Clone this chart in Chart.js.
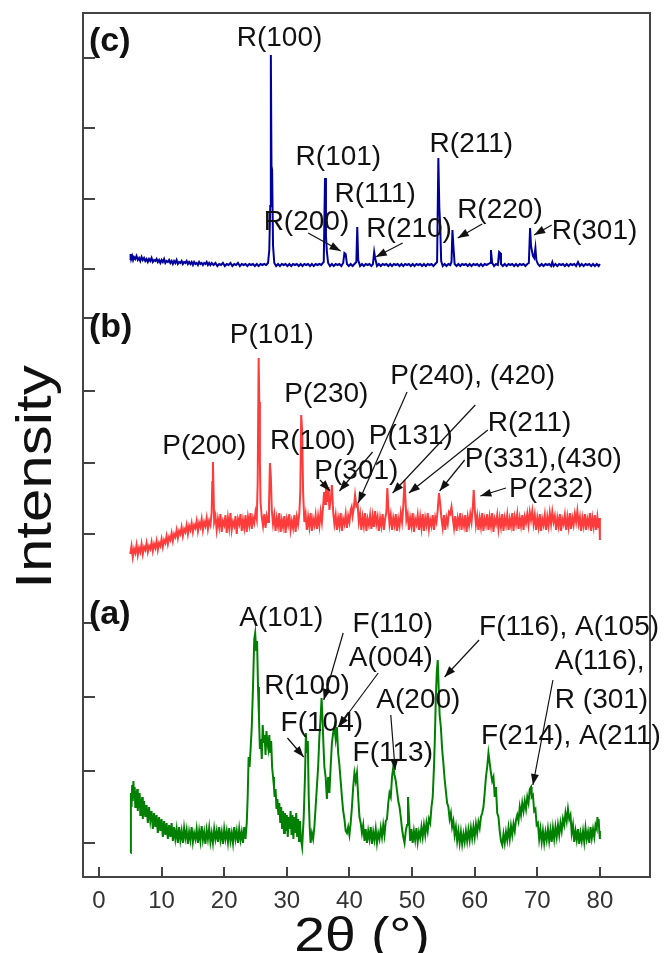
<!DOCTYPE html>
<html><head><meta charset="utf-8">
<style>html,body{margin:0;padding:0;background:#fff;}canvas{display:block;}</style>
</head><body>
<canvas id="c" width="671" height="953"></canvas>
<script src="https://cdn.jsdelivr.net/npm/chart.js@4.4.0/dist/chart.umd.min.js"></script>
<script>
// ---------- data (2θ in degrees, intensity in arbitrary units) ----------
const xTicks = [0,10,20,30,40,50,60,70,80];
const yTicks = [34,106,180,254,343,414,486,559,608,678,749,819];
const offsetA = 40, offsetB = 325, offsetC = 611;

const patternC = [[5,6],[5.05,12],[5.15,7],[5.3,10],[5.45,6],[5.6,9],[5.8,7],[6,10],[6.2,6],[6.4,8],[6.6,5],[6.8,9],[7,6],[7.2,8],[7.4,5],[7.6,7],[7.8,4],[8,7],[8.2,5],[8.4,8],[8.6,4],[8.8,6],[9,5],[9.2,7],[9.4,4],[9.6,6],[9.8,3],[10,6],[10.2,4],[10.4,7],[10.6,3],[10.8,5],[11,4],[11.2,6],[11.4,3],[11.6,5],[11.8,2],[12,5],[12.2,3],[12.4,6],[12.6,2],[12.8,4],[13,3],[13.2,5],[13.4,2],[13.6,4],[13.8,3],[14,5],[14.2,2],[14.4,4],[14.6,2],[14.8,4],[15,1],[15.2,4],[15.4,2],[15.6,3],[15.8,1],[16,4],[16.2,2],[16.4,3],[16.6,1],[16.8,3],[17,2],[17.2,4],[17.4,1],[17.6,3],[17.8,1],[18,3],[18.3,1],[18.6,3],[18.9,0],[19.2,2],[19.5,1],[19.8,3],[20.1,0],[20.4,2],[20.7,1],[21,3],[21.3,0],[21.6,2],[21.9,1],[22.2,3],[22.5,0],[22.8,2],[23.1,1],[23.4,2],[23.7,0],[24,2],[24.3,1],[24.6,2],[24.9,0],[25.2,2],[25.5,0],[25.8,2],[26.1,1],[26.4,2],[26.7,1],[27,3],[27.2,16],[27.35,60],[27.45,211],[27.55,100],[27.65,96],[27.8,20],[28,3],[28.3,0],[28.6,2],[28.9,0],[29.2,2],[29.5,1],[29.8,2],[30.1,0],[30.4,2],[30.7,0],[31,2],[31.3,1],[31.6,2],[31.9,0],[32.2,2],[32.5,0],[32.8,2],[33.1,1],[33.4,2],[33.7,0],[34,2],[34.3,0],[34.6,2],[34.9,1],[35.2,2],[35.5,1],[35.9,4],[36.1,88],[36.25,30],[36.4,14],[36.6,3],[36.9,0],[37.2,2],[37.5,0],[37.8,2],[38.1,1],[38.4,2],[38.7,0],[39,3],[39.2,13],[39.4,12],[39.6,2],[39.9,0],[40.2,2],[40.5,0],[40.8,2],[41.1,4],[41.25,39],[41.4,6],[41.7,0],[42,2],[42.3,0],[42.6,2],[42.9,1],[43.2,2],[43.5,0],[43.75,2],[43.95,14],[44.1,8],[44.4,0],[44.7,2],[45,0],[45.3,2],[45.6,1],[45.9,2],[46.2,0],[46.5,2],[46.8,0],[47.1,2],[47.4,1],[47.7,2],[48,0],[48.3,2],[48.6,0],[48.9,2],[49.2,1],[49.5,2],[49.8,0],[50.1,2],[50.4,0],[50.7,2],[51,1],[51.3,2],[51.6,0],[51.9,2],[52.2,0],[52.5,2],[52.8,1],[53.1,2],[53.4,0],[53.7,2],[54,4],[54.2,108],[54.35,59],[54.5,40],[54.65,5],[54.9,0],[55.2,2],[55.5,0],[55.8,2],[56.1,1],[56.3,4],[56.45,36],[56.6,20],[56.8,2],[57.1,0],[57.4,2],[57.7,0],[58,2],[58.3,1],[58.6,2],[58.9,0],[59.2,2],[59.5,0],[59.8,2],[60.1,1],[60.4,2],[60.7,0],[61,2],[61.3,0],[61.6,2],[61.9,1],[62.2,2],[62.45,3],[62.6,16],[62.8,3],[63.1,0],[63.4,2],[63.7,1],[63.9,14],[64.05,13],[64.2,2],[64.5,0],[64.8,2],[65.1,0],[65.4,2],[65.7,1],[66,2],[66.3,0],[66.6,2],[66.9,0],[67.2,2],[67.5,1],[67.8,2],[68.1,0],[68.4,2],[68.65,3],[68.85,38],[69,20],[69.3,10],[69.5,8],[69.7,18],[69.85,6],[70.1,2],[70.4,0],[70.7,2],[71,0],[71.3,2],[71.6,1],[71.9,2],[72.2,0],[72.4,4],[72.6,0],[72.9,2],[73.2,0],[73.5,2],[73.8,1],[74.1,2],[74.4,0],[74.7,2],[75,0],[75.3,2],[75.6,1],[75.9,2],[76.2,0],[76.5,4],[76.8,0],[77.1,2],[77.4,0],[77.7,2],[78,1],[78.3,2],[78.6,0],[78.9,2],[79.2,0],[79.5,2],[79.8,0],[80,2]];

const patternB = [[5,-2],[5.2,6],[5.4,-5],[5.6,3],[5.8,-1],[6,7],[6.2,-3],[6.4,4],[6.6,0],[6.8,8],[7,-2],[7.2,5],[7.4,2],[7.6,9],[7.8,0],[8,6],[8.2,3],[8.4,10],[8.6,1],[8.8,8],[9,4],[9.2,11],[9.4,2],[9.6,9],[9.8,6],[10,13],[10.2,5],[10.4,12],[10.6,9],[10.8,16],[11,8],[11.2,15],[11.4,12],[11.6,19],[11.8,11],[12,18],[12.2,15],[12.4,22],[12.6,14],[12.8,21],[13,18],[13.2,25],[13.4,16],[13.6,23],[13.8,20],[14,27],[14.2,18],[14.4,26],[14.6,22],[14.8,29],[15,20],[15.2,27],[15.4,24],[15.6,31],[15.8,21],[16,29],[16.2,25],[16.4,33],[16.6,22],[16.8,30],[17,26],[17.2,34],[17.4,23],[17.6,31],[17.8,27],[18,40],[18.1,70],[18.2,90],[18.3,60],[18.4,30],[18.6,36],[18.8,22],[19,33],[19.2,25],[19.4,38],[19.6,20],[19.8,31],[20,27],[20.2,37],[20.4,19],[20.6,34],[20.8,24],[21,39],[21.2,22],[21.4,30],[21.6,26],[21.8,36],[22,18],[22.2,33],[22.4,28],[22.6,38],[22.8,21],[23,32],[23.2,24],[23.4,37],[23.6,20],[23.8,35],[24,27],[24.2,39],[24.4,23],[24.6,34],[24.8,29],[25,40],[25.2,33],[25.35,70],[25.5,194],[25.6,150],[25.7,90],[25.8,50],[26,35],[26.2,26],[26.4,38],[26.6,24],[26.8,36],[27,30],[27.15,45],[27.3,89],[27.45,75],[27.6,42],[27.8,28],[28,37],[28.2,21],[28.4,34],[28.6,26],[28.8,39],[29,20],[29.2,32],[29.4,25],[29.6,36],[29.8,19],[30,33],[30.2,27],[30.4,38],[30.6,22],[30.8,31],[31,24],[31.2,37],[31.4,20],[31.6,35],[31.8,28],[32,39],[32.15,60],[32.3,137],[32.45,120],[32.6,60],[32.8,30],[33,38],[33.2,22],[33.4,35],[33.6,25],[33.8,39],[34,21],[34.2,33],[34.4,27],[34.6,37],[34.8,23],[35,36],[35.2,26],[35.4,40],[35.6,30],[35.8,46],[35.95,60],[36.1,48],[36.25,69],[36.45,50],[36.65,65],[36.8,42],[37.05,55],[37.2,67],[37.4,40],[37.6,28],[37.8,37],[38,22],[38.2,34],[38.4,26],[38.6,39],[38.8,21],[39,33],[39.2,28],[39.4,38],[39.6,24],[39.8,36],[40,30],[40.2,42],[40.35,45],[40.5,36],[40.7,44],[40.9,57],[41.1,46],[41.3,48],[41.5,30],[41.7,38],[41.9,22],[42.1,35],[42.3,26],[42.5,39],[42.7,21],[42.9,33],[43.1,27],[43.3,37],[43.5,23],[43.7,36],[43.9,25],[44.1,41],[44.3,28],[44.5,35],[44.7,21],[44.9,34],[45.1,26],[45.3,38],[45.5,22],[45.7,33],[45.9,40],[46.05,64],[46.2,45],[46.4,28],[46.6,37],[46.8,22],[47,34],[47.2,27],[47.4,38],[47.6,21],[47.8,33],[48,26],[48.2,39],[48.4,30],[48.6,46],[48.8,72],[48.95,52],[49.1,32],[49.3,38],[49.5,22],[49.7,34],[49.9,26],[50.1,39],[50.3,20],[50.5,33],[50.7,28],[50.9,37],[51.1,22],[51.3,35],[51.5,24],[51.7,38],[51.9,21],[52.1,34],[52.3,27],[52.5,39],[52.7,23],[52.9,32],[53.1,26],[53.3,37],[53.5,22],[53.7,35],[53.9,30],[54.1,42],[54.3,59],[54.5,48],[54.7,33],[54.9,24],[55.1,37],[55.3,22],[55.5,34],[55.7,28],[55.9,40],[56.1,38],[56.3,45],[56.5,34],[56.7,24],[56.9,36],[57.1,21],[57.3,34],[57.5,27],[57.7,39],[57.9,22],[58.1,33],[58.3,26],[58.5,37],[58.7,20],[58.9,35],[59.1,27],[59.3,38],[59.5,30],[59.7,45],[59.85,62],[60,44],[60.2,27],[60.4,36],[60.6,22],[60.8,34],[61,25],[61.2,39],[61.4,21],[61.6,33],[61.8,27],[62,38],[62.2,22],[62.4,35],[62.6,26],[62.8,39],[63,20],[63.2,33],[63.4,28],[63.6,37],[63.8,23],[64,34],[64.2,25],[64.4,38],[64.6,21],[64.8,34],[65,27],[65.2,37],[65.4,22],[65.6,33],[65.8,26],[66,39],[66.2,21],[66.4,35],[66.6,28],[66.8,38],[67,23],[67.2,34],[67.4,26],[67.6,37],[67.8,22],[68,35],[68.2,29],[68.4,38],[68.6,27],[68.8,40],[69,32],[69.2,41],[69.4,28],[69.6,37],[69.8,22],[70,34],[70.2,25],[70.4,38],[70.6,21],[70.8,33],[71,27],[71.2,37],[71.4,22],[71.6,35],[71.8,26],[72,39],[72.2,28],[72.4,40],[72.6,30],[72.8,36],[73,22],[73.2,34],[73.4,26],[73.6,38],[73.8,21],[74,33],[74.2,28],[74.4,37],[74.6,22],[74.8,35],[75,25],[75.2,39],[75.4,23],[75.6,34],[75.8,27],[76,38],[76.2,30],[76.4,41],[76.6,28],[76.8,35],[77,21],[77.2,34],[77.4,26],[77.6,38],[77.8,22],[78,33],[78.2,27],[78.4,39],[78.6,21],[78.8,34],[79,25],[79.2,37],[79.4,22],[79.6,35],[79.8,24],[79.9,34],[80,12]];

const patternA = [[5.05,-16],[5.1,44],[5.2,30],[5.3,52],[5.4,36],[5.5,56],[5.6,40],[5.7,50],[5.8,30],[5.9,46],[6,34],[6.1,48],[6.2,26],[6.3,42],[6.4,30],[6.5,44],[6.6,22],[6.7,38],[6.8,26],[6.9,40],[7,18],[7.2,36],[7.4,20],[7.6,32],[7.8,14],[8,30],[8.2,16],[8.4,26],[8.6,8],[8.8,24],[9,10],[9.2,22],[9.4,4],[9.6,20],[9.8,6],[10,18],[10.2,0],[10.4,16],[10.6,2],[10.8,14],[11,-2],[11.2,12],[11.4,0],[11.6,14],[11.8,-4],[12,10],[12.2,-2],[12.4,8],[12.6,-6],[12.8,10],[13,-3],[13.2,6],[13.4,-6],[13.6,9],[13.8,-1],[14,7],[14.2,-7],[14.4,5],[14.6,-3],[14.8,10],[15,-5],[15.2,4],[15.4,-2],[15.6,8],[15.8,-6],[16,6],[16.2,-4],[16.4,11],[16.6,-3],[16.8,5],[17,-7],[17.2,7],[17.4,-2],[17.6,9],[17.8,-5],[18,4],[18.2,-6],[18.4,8],[18.6,-2],[18.8,6],[19,-5],[19.2,10],[19.4,-3],[19.6,5],[19.8,-7],[20,8],[20.2,-2],[20.4,6],[20.6,-5],[20.8,9],[21,-4],[21.2,4],[21.4,-6],[21.6,10],[21.8,-2],[22,6],[22.2,-6],[22.4,8],[22.6,-3],[22.8,5],[23,-6],[23.2,10],[23.4,-2],[23.6,14],[23.75,40],[23.9,80],[24.05,70],[24.2,86],[24.4,110],[24.6,150],[24.8,198],[24.95,204],[25.1,186],[25.25,196],[25.4,150],[25.55,120],[25.7,88],[25.85,98],[26,78],[26.15,112],[26.3,94],[26.45,102],[26.6,82],[26.75,106],[26.9,94],[27.05,88],[27.2,102],[27.35,84],[27.5,96],[27.65,70],[27.8,60],[27.95,50],[28.05,40],[28.2,48],[28.35,28],[28.5,38],[28.65,22],[28.8,34],[28.95,14],[29.1,30],[29.25,8],[29.4,26],[29.55,4],[29.7,24],[29.85,6],[30,22],[30.15,0],[30.3,20],[30.45,8],[30.6,26],[30.75,2],[30.9,22],[31.05,-2],[31.2,20],[31.35,4],[31.5,24],[31.65,0],[31.8,18],[31.95,-4],[32.1,16],[32.25,-2],[32.45,-10],[32.7,20],[32.9,60],[33.05,104],[33.2,84],[33.35,96],[33.5,40],[33.65,10],[33.8,-6],[34,4],[34.2,-2],[34.4,10],[34.6,30],[34.8,50],[35,70],[35.2,100],[35.4,120],[35.55,139],[35.7,118],[35.85,92],[36,70],[36.2,60],[36.4,38],[36.6,60],[36.8,44],[37,70],[37.2,94],[37.4,104],[37.6,110],[37.8,98],[38,110],[38.2,84],[38.4,72],[38.6,56],[38.8,40],[39,26],[39.2,18],[39.4,6],[39.6,4],[39.8,10],[40,2],[40.2,14],[40.4,30],[40.6,50],[40.8,64],[41,56],[41.2,64],[41.4,40],[41.6,20],[41.8,14],[42,4],[42.2,12],[42.4,-4],[42.6,8],[42.8,-6],[43,6],[43.2,-2],[43.4,10],[43.6,-7],[43.8,5],[44,-3],[44.2,8],[44.4,-6],[44.6,4],[44.8,-2],[45,9],[45.2,0],[45.4,12],[45.6,2],[45.8,16],[46,18],[46.2,34],[46.4,44],[46.6,40],[46.8,60],[47,70],[47.2,62],[47.4,56],[47.6,46],[47.8,36],[48,30],[48.2,20],[48.4,8],[48.6,0],[48.8,-6],[49,6],[49.2,12],[49.35,40],[49.5,22],[49.7,-4],[49.9,8],[50.1,-6],[50.3,6],[50.5,-3],[50.7,9],[50.9,-5],[51.1,5],[51.3,-1],[51.5,10],[51.7,0],[51.9,12],[52.1,2],[52.3,14],[52.5,6],[52.7,18],[52.9,14],[53.1,30],[53.3,40],[53.5,70],[53.65,100],[53.8,140],[53.95,165],[54.1,177],[54.25,150],[54.4,122],[54.6,110],[54.8,88],[55,74],[55.2,58],[55.4,46],[55.6,34],[55.8,30],[56,18],[56.2,24],[56.4,10],[56.6,16],[56.8,2],[57,10],[57.2,-4],[57.4,6],[57.6,-6],[57.8,5],[58,-7],[58.2,3],[58.4,-5],[58.6,6],[58.8,-4],[59,7],[59.2,-3],[59.4,9],[59.6,-1],[59.8,10],[60,0],[60.2,13],[60.4,4],[60.6,15],[60.8,9],[61,20],[61.2,24],[61.4,30],[61.6,44],[61.8,60],[62,70],[62.2,84],[62.4,74],[62.6,64],[62.8,56],[63,60],[63.2,40],[63.4,50],[63.6,24],[63.8,20],[64,6],[64.2,-4],[64.4,-8],[64.6,3],[64.8,-6],[65,5],[65.2,-3],[65.4,9],[65.6,-2],[65.8,11],[66,2],[66.2,13],[66.4,6],[66.6,17],[66.8,22],[67,16],[67.2,30],[67.4,22],[67.6,34],[67.8,26],[68,36],[68.2,28],[68.4,40],[68.6,34],[68.8,48],[69,50],[69.1,40],[69.3,42],[69.5,26],[69.7,28],[69.9,12],[70.1,14],[70.3,-2],[70.5,8],[70.7,-5],[70.9,6],[71.1,-6],[71.3,5],[71.5,-3],[71.7,8],[71.9,-4],[72.1,7],[72.3,-5],[72.5,9],[72.7,-2],[72.9,10],[73.1,0],[73.3,12],[73.5,2],[73.7,14],[73.9,6],[74.1,18],[74.3,12],[74.5,24],[74.7,16],[74.9,28],[75.1,18],[75.3,22],[75.5,4],[75.7,12],[75.9,-5],[76.1,6],[76.3,-3],[76.5,8],[76.7,-7],[76.9,4],[77.1,-4],[77.3,6],[77.5,-5],[77.7,9],[77.9,-2],[78.1,5],[78.3,-6],[78.5,10],[78.7,-1],[78.9,8],[79.1,0],[79.3,12],[79.5,8],[79.6,20],[79.7,12],[79.8,18],[79.9,6],[80,-2]];

// peak labels: text, left 2θ, centre intensity; optional arrows [x1,y1,x2,y2]
const labelsC = [
  {t:'R(100)', x:22.0, y:838},
  {t:'R(101)', x:31.4, y:719},
  {t:'R(111)', x:37.6, y:682},
  {t:'R(200)', x:26.3, y:654, a:[[33.4,644,38.6,626]]},
  {t:'R(210)', x:42.7, y:647, a:[[48.5,634,44.2,620]]},
  {t:'R(211)', x:52.8, y:732},
  {t:'R(220)', x:57.2, y:666, a:[[61.2,653,57.3,639]]},
  {t:'R(301)', x:72.3, y:645, a:[[72.3,652,69.5,642]]}
];
const labelsB = [
  {t:'P(101)', x:20.9, y:541},
  {t:'P(200)', x:10.1, y:430},
  {t:'R(100)', x:27.3, y:435},
  {t:'P(230)', x:29.6, y:482},
  {t:'P(131)', x:43.1, y:440, a:[[43.7,425,38.4,386]]},
  {t:'P(301)', x:34.4, y:405, a:[[35.3,397,36.9,386]]},
  {t:'P(240), (420)', x:46.5, y:500, a:[[49.2,485,41.4,374],[60.1,472,46.9,384]]},
  {t:'R(211)', x:62.1, y:453, a:[[62.1,447,49.5,384]]},
  {t:'P(331),(430)', x:58.4, y:417, a:[[58.4,417,54.4,386]]},
  {t:'P(232)', x:65.5, y:387, a:[[65.0,389,60.9,381]]}
];
const labelsA = [
  {t:'A(101)', x:22.4, y:258},
  {t:'F(110)', x:40.5, y:252, a:[[39.0,244,35.9,177]]},
  {t:'A(004)', x:39.9, y:218, a:[[44.6,204,38.2,150]]},
  {t:'R(100)', x:26.4, y:190},
  {t:'F(104)', x:29.0, y:153, a:[[30.1,139,32.7,120]]},
  {t:'A(200)', x:44.3, y:176, a:[[46.6,162,47.3,107]]},
  {t:'F(113)', x:40.5, y:123},
  {t:'F(116), A(105)', x:60.7, y:249, a:[[60.7,237,55.2,200]]},
  {t:'A(116),', x:72.8, y:215, a:[[72.5,197,69.3,92]]},
  {t:'R (301)', x:72.8, y:176},
  {t:'F(214), A(211)', x:61.0, y:140}
];
const panelLabels = [{t:'(c)', y:835},{t:'(b)', y:549},{t:'(a)', y:262}];

// ---------- rendering ----------
const FONT = '"Liberation Sans", Arial, Helvetica, sans-serif';
Chart.defaults.font.family = FONT;
const toXY = (pts, off) => pts.map(p => ({x: p[0], y: p[1] + off}));

function arrow(ctx, x1, y1, x2, y2) {
  ctx.beginPath(); ctx.moveTo(x1, y1); ctx.lineTo(x2, y2); ctx.stroke();
  const ang = Math.atan2(y2 - y1, x2 - x1), L = 11, W = 4;
  ctx.beginPath();
  ctx.moveTo(x2, y2);
  ctx.lineTo(x2 - L*Math.cos(ang) + W*Math.sin(ang), y2 - L*Math.sin(ang) - W*Math.cos(ang));
  ctx.lineTo(x2 - L*Math.cos(ang) - W*Math.sin(ang), y2 - L*Math.sin(ang) + W*Math.cos(ang));
  ctx.closePath(); ctx.fill();
}

const overlay = {
  id: 'overlay',
  afterDraw(chart) {
    const {ctx, chartArea: ca} = chart;
    const xs = chart.scales.x, ys = chart.scales.y;
    ctx.save();
    // frame and inward ticks
    ctx.strokeStyle = '#444'; ctx.lineWidth = 2;
    ctx.strokeRect(ca.left, ca.top, ca.right - ca.left, ca.bottom - ca.top);
    ctx.beginPath();
    xTicks.forEach(v => { const p = Math.round(xs.getPixelForValue(v)); ctx.moveTo(p, ca.bottom); ctx.lineTo(p, ca.bottom - 10); });
    yTicks.forEach(v => { const p = Math.round(ys.getPixelForValue(v)); ctx.moveTo(ca.left, p); ctx.lineTo(ca.left + 12, p); });
    ctx.stroke();
    // peak labels
    const size = 28;
    ctx.fillStyle = '#111'; ctx.strokeStyle = '#111'; ctx.lineWidth = 1.2;
    ctx.font = size + 'px ' + FONT; ctx.textAlign = 'left'; ctx.textBaseline = 'alphabetic';
    [labelsC, labelsB, labelsA].forEach(list => list.forEach(l => {
      ctx.fillText(l.t, xs.getPixelForValue(l.x), ys.getPixelForValue(l.y) + 0.26*size);
      (l.a || []).forEach(a => arrow(ctx, xs.getPixelForValue(a[0]), ys.getPixelForValue(a[1]), xs.getPixelForValue(a[2]), ys.getPixelForValue(a[3])));
    }));
    // panel labels
    ctx.font = 'bold 34px ' + FONT;
    panelLabels.forEach(p => ctx.fillText(p.t, ca.left + 6, ys.getPixelForValue(p.y) + 9));
    // axis titles
    ctx.fillStyle = '#111'; ctx.textAlign = 'center';
    ctx.save();
    ctx.translate(362, 951); ctx.scale(1.15, 1);
    ctx.font = '48px ' + FONT;
    ctx.fillText('2θ (°)', 0, 0);
    ctx.restore();
    ctx.save();
    ctx.translate(51, 477); ctx.rotate(-Math.PI/2); ctx.scale(1.2, 1);
    ctx.font = '50px ' + FONT;
    ctx.fillText('Intensity', 0, 0);
    ctx.restore();
    ctx.restore();
  }
};

new Chart(document.getElementById('c'), {
  type: 'scatter',
  data: {
    datasets: [
      {data: toXY(patternC, offsetC), borderColor: '#00009c'},
      {data: toXY(patternB, offsetB), borderColor: '#ff3b3b'},
      {data: toXY(patternA, offsetA), borderColor: '#008000'}
    ].map(d => Object.assign(d, {showLine: true, pointRadius: 0, borderWidth: 2, tension: 0}))
  },
  options: {
    responsive: false, devicePixelRatio: 1, animation: false,
    layout: {padding: {left: 83, top: 13, right: 21, bottom: 0}},
    plugins: {legend: {display: false}, tooltip: {enabled: false}},
    scales: {
      x: {
        type: 'linear', min: -2.55, max: 88,
        afterBuildTicks: s => { s.ticks = xTicks.map(v => ({value: v})); },
        afterFit: s => { s.height = 76; },
        grid: {display: false, drawTicks: false},
        border: {display: false},
        ticks: {font: {size: 24}, color: '#333', padding: 10, maxRotation: 0}
      },
      y: {
        type: 'linear', min: 0, max: 864, display: false,
        afterBuildTicks: s => { s.ticks = yTicks.map(v => ({value: v})); }
      }
    }
  },
  plugins: [overlay]
});
</script>
</body></html>
